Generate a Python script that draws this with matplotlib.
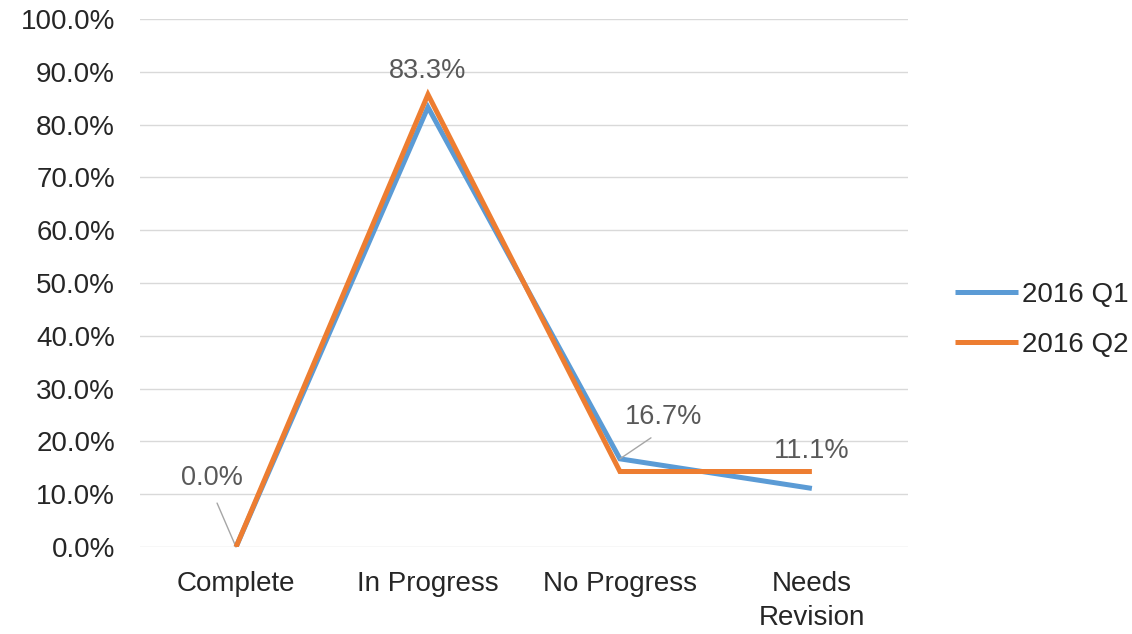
import matplotlib.pyplot as plt
from matplotlib.ticker import FuncFormatter

plt.rcParams['font.family'] = ['Liberation Sans', 'DejaVu Sans']

categories = ['Complete', 'In Progress', 'No Progress', 'Needs\nRevision']
q1 = [0.0, 83.3, 16.7, 11.1]
q2 = [0.0, 85.7, 14.3, 14.3]
series_names = ['2016 Q1', '2016 Q2']

blue = '#5B9BD5'
orange = '#ED7D31'
label_gray = '#595959'
text_dark = '#262626'

fig = plt.figure(figsize=(11.32, 6.34), dpi=100)
ax = fig.add_axes([0.1237, 0.1372, 0.802 - 0.1237, 0.970 - 0.1372])

x = list(range(len(categories)))
ax.plot(x, q1, color=blue, linewidth=3.6, solid_joinstyle='miter', solid_capstyle='butt', label=series_names[0], zorder=3)
ax.plot(x, q2, color=orange, linewidth=3.6, solid_joinstyle='miter', solid_capstyle='butt', label=series_names[1], zorder=4)

ax.set_xlim(-0.5, len(categories) - 0.5)
ax.set_ylim(0, 100)
ax.set_yticks(range(0, 101, 10))
ax.yaxis.set_major_formatter(FuncFormatter(lambda v, p: f'{v:.1f}%'))
ax.set_xticks(x)
ax.set_xticklabels(categories, linespacing=1.4)
ax.tick_params(axis='both', length=0, labelsize=20, colors=text_dark)
ax.tick_params(axis='y', pad=18)
ax.tick_params(axis='x', pad=17)

ax.grid(axis='y', color='#d9d9d9', linewidth=1.0)
ax.set_axisbelow(True)
for s in ax.spines.values():
    s.set_visible(False)

# data labels for the Q1 series, two of them with leader lines
lab_kw = dict(fontsize=19.5, color=label_gray, ha='center', va='center')
leader = dict(arrowstyle='-', color='#a6a6a6', lw=1, shrinkA=7, shrinkB=0, relpos=(0.5, 0))
ax.annotate(f'{q1[0]:.1f}%', xy=(x[0], q1[0]), xytext=(x[0] - 0.125, 13.0), arrowprops=leader, **lab_kw)
ax.text(x[1], 90.2, f'{q1[1]:.1f}%', **lab_kw)
ax.annotate(f'{q1[2]:.1f}%', xy=(x[2], q1[2]), xytext=(x[2] + 0.225, 24.7), arrowprops=leader, **lab_kw)
ax.text(x[3], 18.2, f'{q1[3]:.1f}%', **lab_kw)

leg = fig.legend(handles=ax.get_lines(), loc='center left', bbox_to_anchor=(0.8436, 1 - 320 / 634),
                 frameon=False, fontsize=20, borderpad=0, borderaxespad=0,
                 handlelength=2.27, handletextpad=0.15, labelspacing=0.85)
for t in leg.get_texts():
    t.set_color(text_dark)

fig.savefig('out.png', dpi=100)
